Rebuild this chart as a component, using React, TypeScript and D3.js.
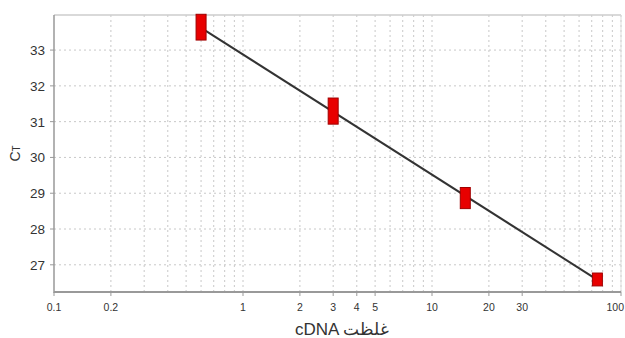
import React from "react";
import * as d3 from "d3";

const concentrations = [0.6, 3, 15, 75];
const ctHigh = [34.0, 31.66, 29.16, 26.77];
const ctLow = [33.28, 30.93, 28.57, 26.41];
const fitX = [0.6, 75];
const fitY = [33.62, 26.58];
const yTicks = [27, 28, 29, 30, 31, 32, 33];
const xTickLabels = [0.1, 0.2, 1, 2, 3, 4, 5, 10, 20, 30, 100];
const xTitle = "cDNA غلظت";

const W = 625;
const H = 338;
const M = { left: 54, right: 4, top: 15, bottom: 46 };

export default function App() {
  const x = d3.scaleLog().domain([0.1, 100]).range([M.left, W - M.right]);
  const y = d3.scaleLinear().domain([26.24, 33.98]).range([H - M.bottom, M.top]);
  const minor: number[] = [];
  [0.1, 1, 10].forEach((d) => {
    for (let k = 2; k <= 10; k++) minor.push(d * k);
  });
  const line = d3
    .line<number>()
    .x((_, i) => x(fitX[i]))
    .y((d) => y(d));
  const font = "'Liberation Sans', Arial, sans-serif";
  const [x0, x1] = x.range();
  const [yb, yt] = y.range();
  return (
    <div style={{ position: "fixed", left: 0, top: 0 }}>
      <svg width={W} height={H} style={{ display: "block", background: "#fff" }}>
        <g>
          {minor.map((v) => (
            <line key={"vx" + v} x1={x(v)} x2={x(v)} y1={yt} y2={yb} stroke="#c8c8c8" strokeDasharray="2,3" />
          ))}
          {yTicks.map((v) => (
            <line key={"hy" + v} x1={x0} x2={x1} y1={y(v)} y2={y(v)} stroke="#c8c8c8" strokeDasharray="2,3" />
          ))}
        </g>
        <line x1={x0} x2={x1} y1={yt} y2={yt} stroke="#cccccc" strokeWidth={1.5} />
        <line x1={x1} x2={x1} y1={yt} y2={yb} stroke="#dddddd" strokeWidth={1} />
        <line x1={x0} x2={x0} y1={yt} y2={yb + 1} stroke="#999" strokeWidth={1.5} />
        <line x1={x0} x2={x1} y1={yb} y2={yb} stroke="#999" strokeWidth={2} />
        {yTicks.map((v) => (
          <g key={"yt" + v}>
            <line x1={x0 - 4} x2={x0} y1={y(v)} y2={y(v)} stroke="#999" />
            <text x={x0 - 9} y={y(v) + 5} textAnchor="end" fontFamily={font} fontSize={13.5} fill="#333">
              {v}
            </text>
          </g>
        ))}
        {xTickLabels.map((v, i) => {
          const last = i === xTickLabels.length - 1;
          return (
            <g key={"xt" + v}>
              <line x1={x(v)} x2={x(v)} y1={yb} y2={yb + 4} stroke="#999" />
              <text
                x={last ? W - 1 : x(v)}
                y={yb + 19}
                textAnchor={last ? "end" : "middle"}
                fontFamily={font}
                fontSize={10.5}
                fill="#333"
              >
                {v}
              </text>
            </g>
          );
        })}
        <path d={line(fitY) || ""} fill="none" stroke="#333" strokeWidth={2} />
        {concentrations.map((c, i) => (
          <rect
            key={"p" + i}
            x={x(c) - 5}
            y={y(ctHigh[i])}
            width={10}
            height={y(ctLow[i]) - y(ctHigh[i])}
            fill="#e80000"
            stroke="#a00000"
            strokeWidth={1}
          />
        ))}
        <text transform={`translate(20,${(yt + yb) / 2}) rotate(-90)`} textAnchor="middle" fontFamily={font} fontSize={14} fill="#333">
          C<tspan fontSize={10}>T</tspan>
        </text>
        <text x={342} y={335} textAnchor="middle" fontFamily={font} fontSize={17} fill="#333">
          {xTitle}
        </text>
      </svg>
    </div>
  );
}
